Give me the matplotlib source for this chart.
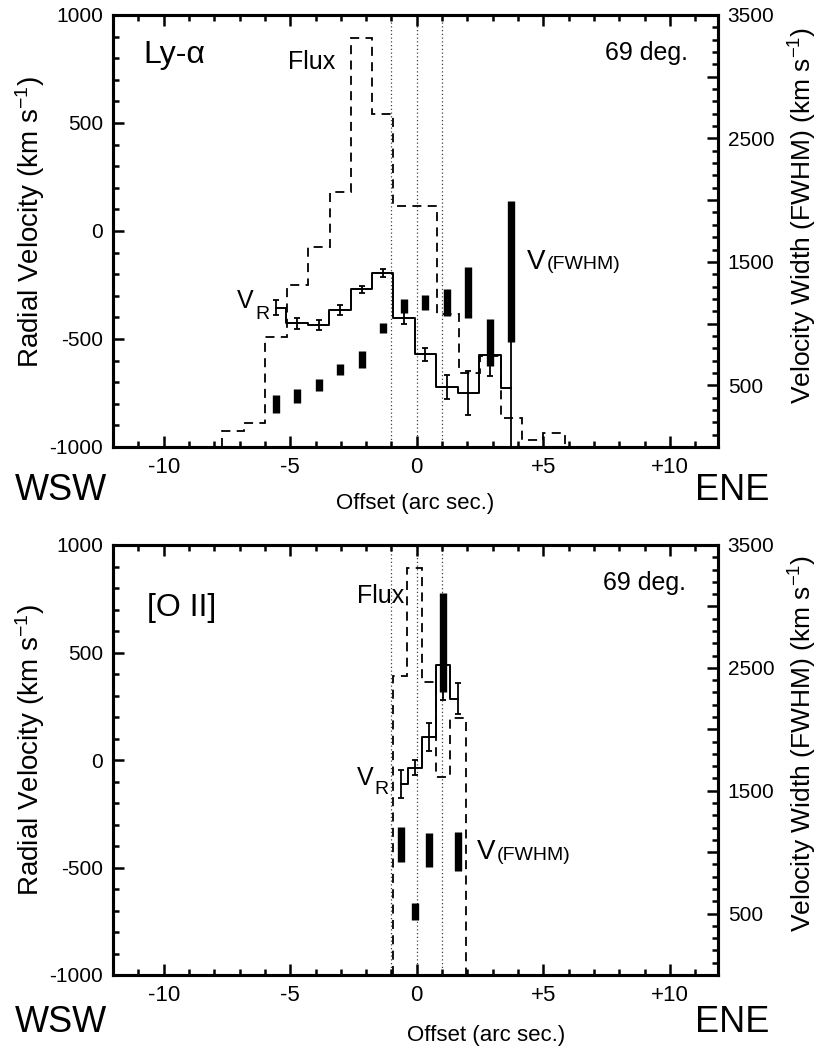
import matplotlib
matplotlib.use("Agg")
import matplotlib.pyplot as plt
from matplotlib.ticker import MultipleLocator, FixedLocator, FixedFormatter

plt.rcParams['font.family'] = ['Liberation Sans', 'DejaVu Sans']
plt.rcParams['axes.unicode_minus'] = False
plt.rcParams['mathtext.fontset'] = 'custom'
plt.rcParams['mathtext.rm'] = 'Liberation Sans'
plt.rcParams['mathtext.it'] = 'Liberation Sans:italic'

# ---------------- data: Ly-alpha (top panel) ----------------
ly_offset = [-5.57, -4.73, -3.88, -3.03, -2.18, -1.34, -0.50, 0.34, 1.20, 2.04, 2.89, 3.73]
ly_vr = [-355, -427, -437, -366, -270, -195, -404, -571, -722, -748, -575, -725]
ly_vr_err = [36, 25, 23, 22, 15, 19, 27, 31, 54, 102, 96, 400]
ly_fwhm_lo = [273, 356, 450, 585, 638, 926, 1083, 1110, 1061, 1043, 656, 853]
ly_fwhm_hi = [421, 468, 551, 675, 778, 1007, 1197, 1231, 1278, 1461, 1035, 1996]
ly_flux_edges = [-7.70, -6.84, -5.99, -5.13, -4.28, -3.44, -2.61, -1.77, -0.92,
                 -0.07, 0.79, 1.65, 2.50, 3.32, 4.14, 5.00, 5.86]
ly_flux = [0.040, 0.058, 0.269, 0.396, 0.489, 0.624, 1.000, 0.813, 0.589,
           0.589, 0.324, 0.182, 0.222, 0.070, 0.016, 0.033]

# ---------------- data: [O II] (bottom panel) ----------------
o2_offset = [-0.63, -0.07, 0.49, 1.04, 1.61]
o2_vr = [-112, -35, 107, 442, 285]
o2_vr_err = [67, 35, 67, 163, 73]
o2_fwhm_lo = [922, 448, 877, 2306, 849]
o2_fwhm_hi = [1207, 588, 1158, 3107, 1166]
o2_flux_edges = [-0.94, -0.37, 0.20, 0.75, 1.32, 1.94]
o2_flux = [0.733, 1.000, 0.720, 0.485, 0.632]

slit_marks = [-1, 0, 1]
xtick_vals = [-10, -5, 0, 5, 10]
xtick_labels = ['-10', '-5', '0', '+5', '+10']
ytick_vals = [-1000, -500, 0, 500, 1000]
rtick_vals = [500, 1000, 1500, 2000, 2500, 3000, 3500]
rtick_labels = ['500', '', '1500', '', '2500', '', '3500']

W, H = 830, 1047
fig = plt.figure(figsize=(W / 100, H / 100), dpi=100)


def px_axes(x0, y0, x1, y1):
    return fig.add_axes([x0 / W, 1 - y1 / H, (x1 - x0) / W, (y1 - y0) / H])


def panel(ax, offs, vr, err, lo, hi, edges, flux):
    ax.set_xlim(-12, 11.9)
    ax.set_ylim(-1000, 1000)
    ax.xaxis.set_major_locator(FixedLocator(xtick_vals))
    ax.xaxis.set_major_formatter(FixedFormatter(xtick_labels))
    ax.xaxis.set_minor_locator(MultipleLocator(1))
    ax.yaxis.set_major_locator(FixedLocator(ytick_vals))
    ax.yaxis.set_minor_locator(MultipleLocator(100))
    ax.tick_params(which='both', direction='in', top=True, right=False, width=1.8)
    ax.tick_params(which='major', length=8)
    ax.tick_params(which='minor', length=4.5)
    ax.tick_params(axis='y', labelsize=15, pad=7)
    ax.tick_params(axis='x', labelsize=16, pad=7)
    for s in ax.spines.values():
        s.set_linewidth(2.2)

    for xm in slit_marks:
        ax.axvline(xm, ls=(0, (1, 2)), lw=0.9, color='0.25', zorder=1)

    ax.plot(offs, vr, drawstyle='steps-mid', color='k', lw=1.4, zorder=3)
    ax.errorbar(offs, vr, yerr=err, fmt='none', ecolor='k', elinewidth=1.3,
                capsize=2.5, capthick=1.3, zorder=3)

    axr = ax.twinx()
    axr.set_ylim(0, 3500)
    axr.yaxis.set_major_locator(FixedLocator(rtick_vals))
    axr.yaxis.set_major_formatter(FixedFormatter(rtick_labels))
    axr.yaxis.set_minor_locator(MultipleLocator(100))
    axr.tick_params(which='both', direction='in', width=1.8)
    axr.tick_params(which='major', length=8, labelsize=15, pad=7)
    axr.tick_params(which='minor', length=4.5)
    for s in axr.spines.values():
        s.set_linewidth(2.2)
    axr.vlines(offs, lo, hi, colors='k', lw=5.3, zorder=4)

    axf = ax.twinx()
    axf.set_ylim(0, 1.0555)
    axf.set_axis_off()
    axf.stairs(flux, edges, baseline=0, color='k', lw=1.3, ls=(0, (5, 3.5)))
    return axr


ax1 = px_axes(113, 15, 718, 447)
panel(ax1, ly_offset, ly_vr, ly_vr_err, ly_fwhm_lo, ly_fwhm_hi, ly_flux_edges, ly_flux)
ax2 = px_axes(113, 545, 718, 975)
panel(ax2, o2_offset, o2_vr, o2_vr_err, o2_fwhm_lo, o2_fwhm_hi, o2_flux_edges, o2_flux)

# axis titles (vertical), placed in figure pixels
for yl, yr in [(222, 215), (750, 743)]:
    fig.text(30 / W, 1 - yl / H, 'Radial Velocity (km s$^{\\mathrm{-1}}$)', fontsize=20,
             rotation=90, va='center', ha='center')
    fig.text(803 / W, 1 - yr / H, 'Velocity Width (FWHM) (km s$^{\\mathrm{-1}}$)', fontsize=19,
             rotation=90, va='center', ha='center')

# annotations top
ax1.text(-10.8, 815, 'Ly-α', fontsize=23, va='center', ha='left')
ax1.text(-5.07, 782, 'Flux', fontsize=18, va='center', ha='left')
ax1.text(7.45, 826, '69 deg.', fontsize=18, va='center', ha='left')
ax1.text(-7.1, -324, 'V', fontsize=18, va='center', ha='left')
ax1.text(-6.38, -385, 'R', fontsize=14, va='center', ha='left')
ax1.text(4.35, -143, 'V', fontsize=20, va='center', ha='left')
ax1.text(5.13, -157, '(FWHM)', fontsize=14, va='center', ha='left')

# annotations bottom
ax2.text(-10.64, 707, '[O II]', fontsize=23, va='center', ha='left')
ax2.text(-2.36, 763, 'Flux', fontsize=18, va='center', ha='left')
ax2.text(7.36, 823, '69 deg.', fontsize=18, va='center', ha='left')
ax2.text(-2.36, -84, 'V', fontsize=18, va='center', ha='left')
ax2.text(-1.66, -135, 'R', fontsize=14, va='center', ha='left')
ax2.text(2.37, -428, 'V', fontsize=20, va='center', ha='left')
ax2.text(3.16, -442, '(FWHM)', fontsize=14, va='center', ha='left')

# direction labels and x-axis titles
for yc, xo in [(490, 415), (1022, 486)]:
    fig.text(15 / W, 1 - yc / H, 'WSW', fontsize=26, va='center', ha='left')
    fig.text(695 / W, 1 - yc / H, 'ENE', fontsize=26, va='center', ha='left')
    fig.text(xo / W, 1 - (yc + 14) / H, 'Offset (arc sec.)', fontsize=16,
             va='center', ha='center')

fig.savefig('out.png', dpi=100)
